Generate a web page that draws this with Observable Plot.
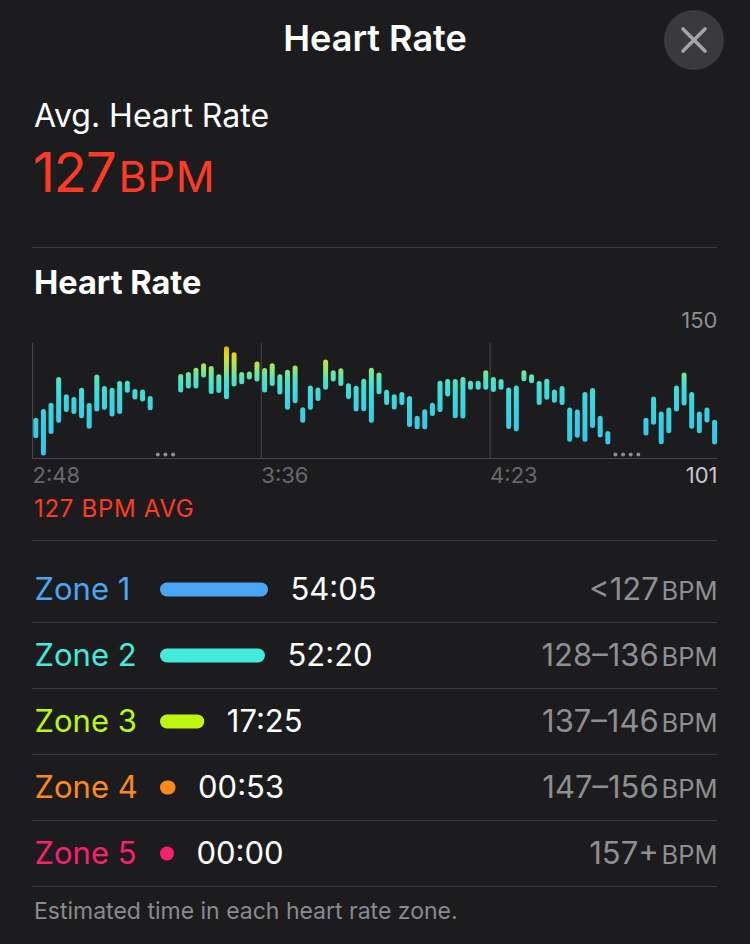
<!DOCTYPE html>
<html><head><meta charset="utf-8">
<script src="https://cdn.jsdelivr.net/npm/d3@7"></script>
<script src="https://cdn.jsdelivr.net/npm/@observablehq/plot@0.6"></script>
<style>
html,body{margin:0;padding:0;background:#1c1c1e;}
body{width:750px;height:944px;position:relative;overflow:hidden;font-family:Inter,"Noto Sans",sans-serif;color:#fff;}
.abs{position:absolute;white-space:nowrap;line-height:1;}
.sep{position:absolute;left:32px;width:685px;height:1px;background:#3a3a3c;}
#chart,#zones{position:absolute;left:0;}
</style></head><body>
<div class="abs" style="left:0;width:750px;text-align:center;top:20px;font-size:36px;font-weight:600;">Heart Rate</div>
<svg style="position:absolute;left:664px;top:10px" width="60" height="60"><circle cx="30" cy="30" r="30" fill="#3a3a3c"/><path d="M19 19L41 41M41 19L19 41" stroke="#a3a3a8" stroke-width="3.6" stroke-linecap="round"/></svg>
<div class="abs" style="left:34px;top:100px;font-size:32px;">Avg. Heart Rate</div>
<div class="abs" style="left:33px;top:145px;color:#ff3a24;"><span style="font-size:55px;letter-spacing:-1.5px;">127</span><span style="font-size:43px;letter-spacing:0.8px;margin-left:3px;">BPM</span></div>
<div class="sep" style="top:247px"></div>
<div class="abs" style="left:34px;top:267px;font-size:32.5px;font-weight:700;">Heart Rate</div>
<div id="chart" style="top:300px"></div>
<div class="abs" style="left:34px;top:497px;font-size:24px;color:#ff3a24;letter-spacing:0.7px;">127 BPM AVG</div>
<div class="sep" style="top:540px"></div>
<div id="zones" style="top:556px"></div>
<div class="abs" style="left:34px;top:900px;font-size:23px;color:#8a8a8f;">Estimated time in each heart rate zone.</div>
<script>
// Heart-rate samples: one range per sample slot (null = paused, shown as dots)
const hrHigh = [117.1,120.8,123.5,134.4,127.1,125.9,129.9,123.4,135.5,130.6,129.9,132.7,132.9,129.3,129.1,126.3,null,null,null,
  135.7,136.6,138.4,140.3,139.1,135.6,147.6,145.0,136.6,136.8,141.0,138.3,140.3,135.6,137.5,139.3,121.6,130.8,130.0,141.9,
  137.3,138.2,131.8,130.7,133.7,138.4,136.4,129.0,127.1,128.1,126.3,117.9,120.7,123.5,132.8,133.6,133.6,134.5,132.8,132.8,
  137.3,134.5,133.6,130.0,130.8,137.3,135.6,132.7,133.7,129.1,130.6,121.5,120.6,128.1,129.8,117.9,111.4,null,null,null,null,
  117.1,126.1,119.7,121.5,130.8,136.4,128.1,119.7,121.5,116.2];
const hrLow = [110.5,103.1,112.3,117.1,121.7,120.8,119.0,114.5,121.9,122.6,119.7,120.8,129.9,127.0,126.1,122.4,null,null,null,
  130.0,131.7,131.7,136.4,129.3,129.8,127.1,132.5,133.5,135.5,134.7,130.0,132.7,129.1,122.6,125.4,117.1,122.6,126.3,131.1,
  134.7,132.7,127.2,121.9,122.0,117.1,129.2,124.7,122.7,124.6,115.3,114.3,114.3,120.0,121.7,128.3,119.0,118.9,131.1,131.1,
  131.1,130.2,131.1,114.4,113.5,134.8,133.9,124.7,126.9,125.6,124.7,109.0,110.7,109.0,114.8,110.8,107.8,null,null,null,null,
  111.6,116.2,107.9,112.6,121.9,124.4,114.5,112.6,117.2,107.8];
const slotMinutes = 1.6;      // minutes per sample slot
const firstSlotMinute = 0.69; // first sample after 2:48
const totalMinutes = 143.7;
const tickMinutes = [0, 48, 96];
const tickLabels = ["2:48", "3:36", "4:23"];
const yTicks = [150, 101];

// Zones
const zoneNames = ["Zone 1", "Zone 2", "Zone 3", "Zone 4", "Zone 5"];
const zoneMinutes = [54 + 5/60, 52 + 20/60, 17 + 25/60, 53/60, 0];
const zoneTimes = ["54:05", "52:20", "17:25", "00:53", "00:00"];
const zoneRanges = ["<127", "128–136", "137–146", "147–156", "157+"];
const zoneColors = ["#4aa5f2", "#44eadd", "#bdf60e", "#fb8a1e", "#f7216d"];

const gradStops = [
  [101, "#33c2ea"], [124, "#3ad5df"], [131, "#41dfd5"], [135, "#58e4ba"],
  [138.5, "#8ee47c"], [142, "#c2e43a"], [145.5, "#dcd812"], [148, "#e8b400"], [150, "#eea000"]
];

const samples = hrHigh.map((h, i) => ({t: firstSlotMinute + slotMinutes * i, high: h, low: hrLow[i]}));
const bars = samples.filter(d => d.high != null);
const gaps = samples.filter(d => d.high == null);

const font = 'Inter, "Noto Sans", sans-serif';
const chart = Plot.plot({
  width: 750, height: 193,
  marginLeft: 32, marginRight: 33, marginTop: 43, marginBottom: 35,
  style: {background: "transparent", fontFamily: font, overflow: "visible"},
  x: {domain: [0, totalMinutes], axis: null},
  y: {domain: [101, 150], axis: null},
  marks: [
    Plot.ruleX(tickMinutes, {stroke: "#48484a"}),
    Plot.ruleY([101], {stroke: "#48484a"}),
    Plot.text(tickMinutes, {x: d => d, text: d => tickLabels[tickMinutes.indexOf(d)], frameAnchor: "bottom",
      textAnchor: "start", lineAnchor: "bottom", dy: 24, fill: "#68686d", fontSize: 22}),
    Plot.text([yTicks[0]], {y: d => d, text: d => String(d), frameAnchor: "right", textAnchor: "end",
      lineAnchor: "bottom", dy: -16, fill: "#8e8e93", fontSize: 22}),
    Plot.text([yTicks[1]], {y: d => d, text: d => String(d), frameAnchor: "right", textAnchor: "end",
      lineAnchor: "bottom", dy: 24, fill: "#c7c7cc", fontSize: 22}),
    Plot.ruleX(bars, {x: "t", y1: "low", y2: "high", stroke: "url(#hrGradient)", strokeWidth: 5, strokeLinecap: "round"}),
    Plot.dot(gaps, {x: "t", frameAnchor: "bottom", dy: -4, r: 2, fill: "#8e8e93", stroke: "none"})
  ]
});
// gradient by heart-rate value, built from the y scale
(function () {
  const ys = chart.scale("y");
  const ns = "http://www.w3.org/2000/svg";
  const defs = document.createElementNS(ns, "defs");
  const g = document.createElementNS(ns, "linearGradient");
  g.setAttribute("id", "hrGradient");
  g.setAttribute("gradientUnits", "userSpaceOnUse");
  g.setAttribute("x1", 0); g.setAttribute("x2", 0);
  g.setAttribute("y1", ys.apply(101)); g.setAttribute("y2", ys.apply(150));
  for (const [v, c] of gradStops) {
    const s = document.createElementNS(ns, "stop");
    s.setAttribute("offset", (v - 101) / (150 - 101));
    s.setAttribute("stop-color", c);
    g.appendChild(s);
  }
  defs.appendChild(g);
  chart.insertBefore(defs, chart.firstChild);
})();
document.getElementById("chart").appendChild(chart);

const zones = zoneNames.map((n, i) => ({name: n, row: i + 0.5, minutes: zoneMinutes[i], time: zoneTimes[i], range: zoneRanges[i], color: zoneColors[i]}));
const bpmSize = 25.5, bpmSpacing = 0.6;
const ctx = document.createElement("canvas").getContext("2d");
ctx.font = bpmSize + "px " + font;
const bpmW = ctx.measureText("BPM").width + 3 * bpmSpacing + 1;
const zonePlot = Plot.plot({
  width: 750, height: 331, margin: 0,
  style: {background: "transparent", fontFamily: font, overflow: "visible"},
  x: {domain: [0, zoneMinutes[0]], range: [167, 261], axis: null},
  y: {domain: [0, 5], range: [0, 330], axis: null},
  color: {type: "identity"},
  marks: [
    Plot.ruleY([1, 2, 3, 4, 5], {stroke: "#3a3a3c", insetLeft: 32, insetRight: 33}),
    Plot.ruleY(zones, {y: "row", x1: 0, x2: "minutes", stroke: "color", strokeWidth: 14, strokeLinecap: "round"}),
    Plot.text(zones, {y: "row", text: "name", fill: "color", frameAnchor: "left", dx: 34, textAnchor: "start", lineAnchor: "bottom", dy: 10, fontSize: 31}),
    Plot.text(zones, {x: "minutes", y: "row", text: "time", fill: "#ffffff", dx: 29, textAnchor: "start", lineAnchor: "bottom", dy: 10, fontSize: 31}),
    Plot.text(zones, {y: "row", text: () => "BPM", frameAnchor: "right", dx: -33, textAnchor: "end", lineAnchor: "bottom", dy: 10, fill: "#8e8e93", fontSize: bpmSize, letterSpacing: bpmSpacing}),
    Plot.text(zones, {y: "row", text: "range", frameAnchor: "right", dx: -33 - bpmW, textAnchor: "end", lineAnchor: "bottom", dy: 10, fill: "#8e8e93", fontSize: 31})
  ]
});
document.getElementById("zones").appendChild(zonePlot);
</script>
</body></html>
